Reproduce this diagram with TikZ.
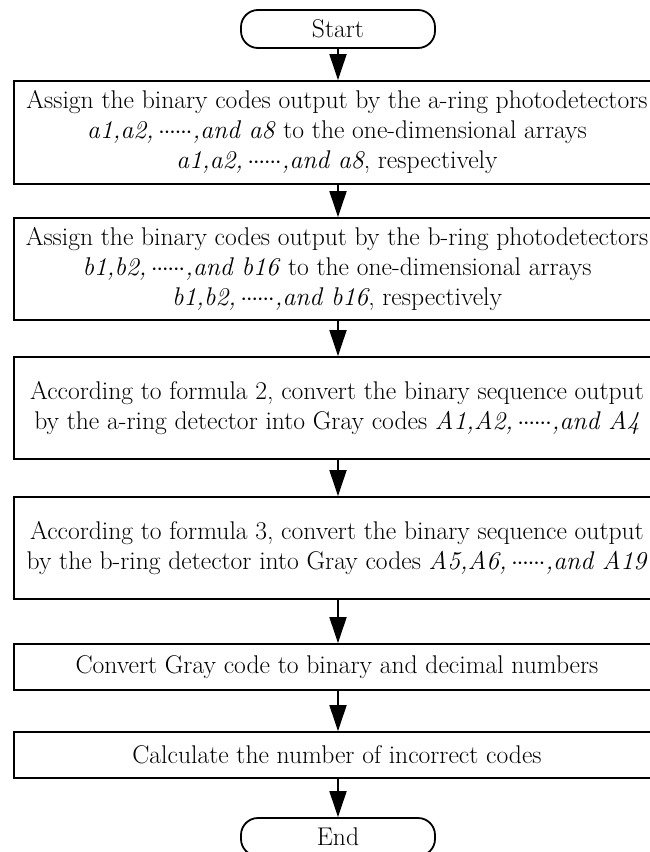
\documentclass[tikz,border=0pt]{standalone}
\usetikzlibrary{arrows.meta}
\usetikzlibrary{positioning}

\tikzset{
  txt/.style={font=\fontsize{25.6}{30}\selectfont},
  procbox/.style={draw, line width=1.8pt, txt, align=center, inner sep=0pt, minimum width=646pt},
  termbox/.style={draw, line width=1.8pt, txt, rounded corners=17pt, inner sep=0pt, minimum width=194pt, minimum height=38pt},
  flow/.style={line width=1.8pt, -{Triangle[length=26pt,width=17pt]}}
}
\newcommand{\dotsrow}{\ensuremath{{\cdot}\mkern-1mu{\cdot}\mkern-1mu{\cdot}\mkern-1mu{\cdot}\mkern-1mu{\cdot}\mkern-1mu{\cdot}}}

\begin{document}
\begin{tikzpicture}[x=1pt,y=1pt]
\useasboundingbox (0,0) rectangle (649,-852);

\node[termbox] (start) at (338,-29) {Start};
\node[procbox, minimum height=103pt] (ringa) at (337,-132.5)
  {Assign the binary codes output by the a-ring photodetectors\\
   \textit{a1,a2,\,\dotsrow,and a8} to the one-dimensional arrays\\
   \textit{a1,a2,\,\dotsrow,and a8}, respectively};
\node[procbox, minimum height=102pt] (ringb) at (337,-269)
  {Assign the binary codes output by the b-ring photodetectors\\
   \textit{b1,b2,\,\dotsrow,and b16} to the one-dimensional arrays\\
   \textit{b1,b2,\,\dotsrow,and b16}, respectively};
\node[procbox, minimum height=102pt] (graya) at (337,-408)
  {According to formula 2, convert the binary sequence output\\
   by the a-ring detector into Gray codes \textit{A1,A2,\,\dotsrow,and A4}};
\node[procbox, minimum height=102pt] (grayb) at (337,-548)
  {According to formula 3, convert the binary sequence output\\
   by the b-ring detector into Gray codes \textit{A5,A6,\,\dotsrow,and A19}};
\node[procbox, minimum height=46pt] (conv) at (337,-667)
  {Convert Gray code to binary and decimal numbers};
\node[procbox, minimum height=46pt] (count) at (337,-755)
  {Calculate the number of incorrect codes};
\node[termbox] (end) at (338,-837) {End};

% flow
\draw[flow] (start) -- (start |- ringa.north);
\draw[flow] (ringa.south -| start) -- (start |- ringb.north);
\draw[flow] (ringb.south -| start) -- (start |- graya.north);
\draw[flow] (graya.south -| start) -- (start |- grayb.north);
\draw[flow] (grayb.south -| start) -- (start |- conv.north);
\draw[flow] (conv.south -| start) -- (start |- count.north);
\draw[flow] (count.south -| start) -- (end);
\end{tikzpicture}
\end{document}
